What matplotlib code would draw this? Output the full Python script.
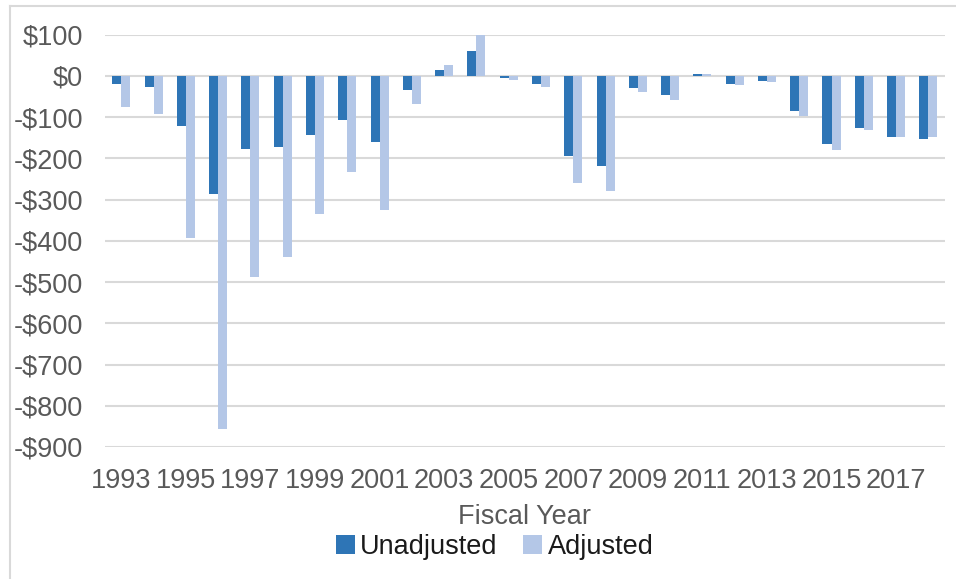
import numpy as np
import matplotlib
matplotlib.use('Agg')
import matplotlib.pyplot as plt
from matplotlib.lines import Line2D
from matplotlib.ticker import FuncFormatter

# Fiscal years and balances (millions of dollars)
years = list(range(1993, 2019))
unadjusted = [-20, -27, -122, -286, -176, -173, -144, -106, -159, -34,
              15, 60, -6, -19, -195, -219, -30, -45, 5, -19,
              -13, -85, -165, -127, -148, -154]
adjusted = [-76, -93, -394, -857, -487, -440, -336, -232, -326, -67,
            26, 100, -9, -27, -259, -279, -39, -58, 5, -23,
            -15, -97, -179, -131, -148, -148]

plt.rcParams['font.family'] = ['Liberation Sans', 'DejaVu Sans']
text_color = '#595959'
grid_color = '#d9d9d9'
fs = 19.5

fig = plt.figure(figsize=(9.56, 5.79), dpi=100)
ax = fig.add_axes([0.11, 0.228, 0.878, 0.712])

x = np.arange(len(years))
w = 0.28
ax.bar(x - w / 2, unadjusted, width=w, color='#2e75b6', label='Unadjusted', zorder=3)
ax.bar(x + w / 2, adjusted, width=w, color='#b4c7e7', label='Adjusted', zorder=3)

ax.set_xlim(-0.5, len(years) - 0.5)
ax.set_ylim(-900, 100)
ax.set_yticks(np.arange(-900, 101, 100))
ax.yaxis.set_major_formatter(FuncFormatter(lambda v, _: f'${v:,.0f}' if v >= 0 else f'-${-v:,.0f}'))
ax.set_xticks(x[::2])
ax.set_xticklabels([str(y) for y in years[::2]])
ax.grid(axis='y', color=grid_color, linewidth=1.5, zorder=0)
ax.tick_params(length=0, labelsize=fs, colors=text_color)
ax.tick_params(axis='x', pad=15)
ax.tick_params(axis='y', pad=16)
for s in ax.spines.values():
    s.set_visible(False)

ax.set_xlabel('Fiscal Year', fontsize=fs, color=text_color)
ax.xaxis.set_label_coords(0.5, -0.17)
ax.xaxis.label.set_va('center')

ax.legend(loc='center', bbox_to_anchor=(0.464, -0.243), ncol=2, frameon=False,
          fontsize=fs, labelcolor='#1a1a1a', handlelength=0.7, handleheight=0.7,
          handletextpad=0.2, columnspacing=0.95, borderpad=0)

# chart frame
fig.add_artist(Line2D([9.5 / 956, 1], [1 - 6 / 579, 1 - 6 / 579], transform=fig.transFigure,
                      color=grid_color, linewidth=1.5))
fig.add_artist(Line2D([9.5 / 956, 9.5 / 956], [0, 1 - 6 / 579], transform=fig.transFigure,
                      color=grid_color, linewidth=1.5))

fig.savefig('out.png', dpi=100)
